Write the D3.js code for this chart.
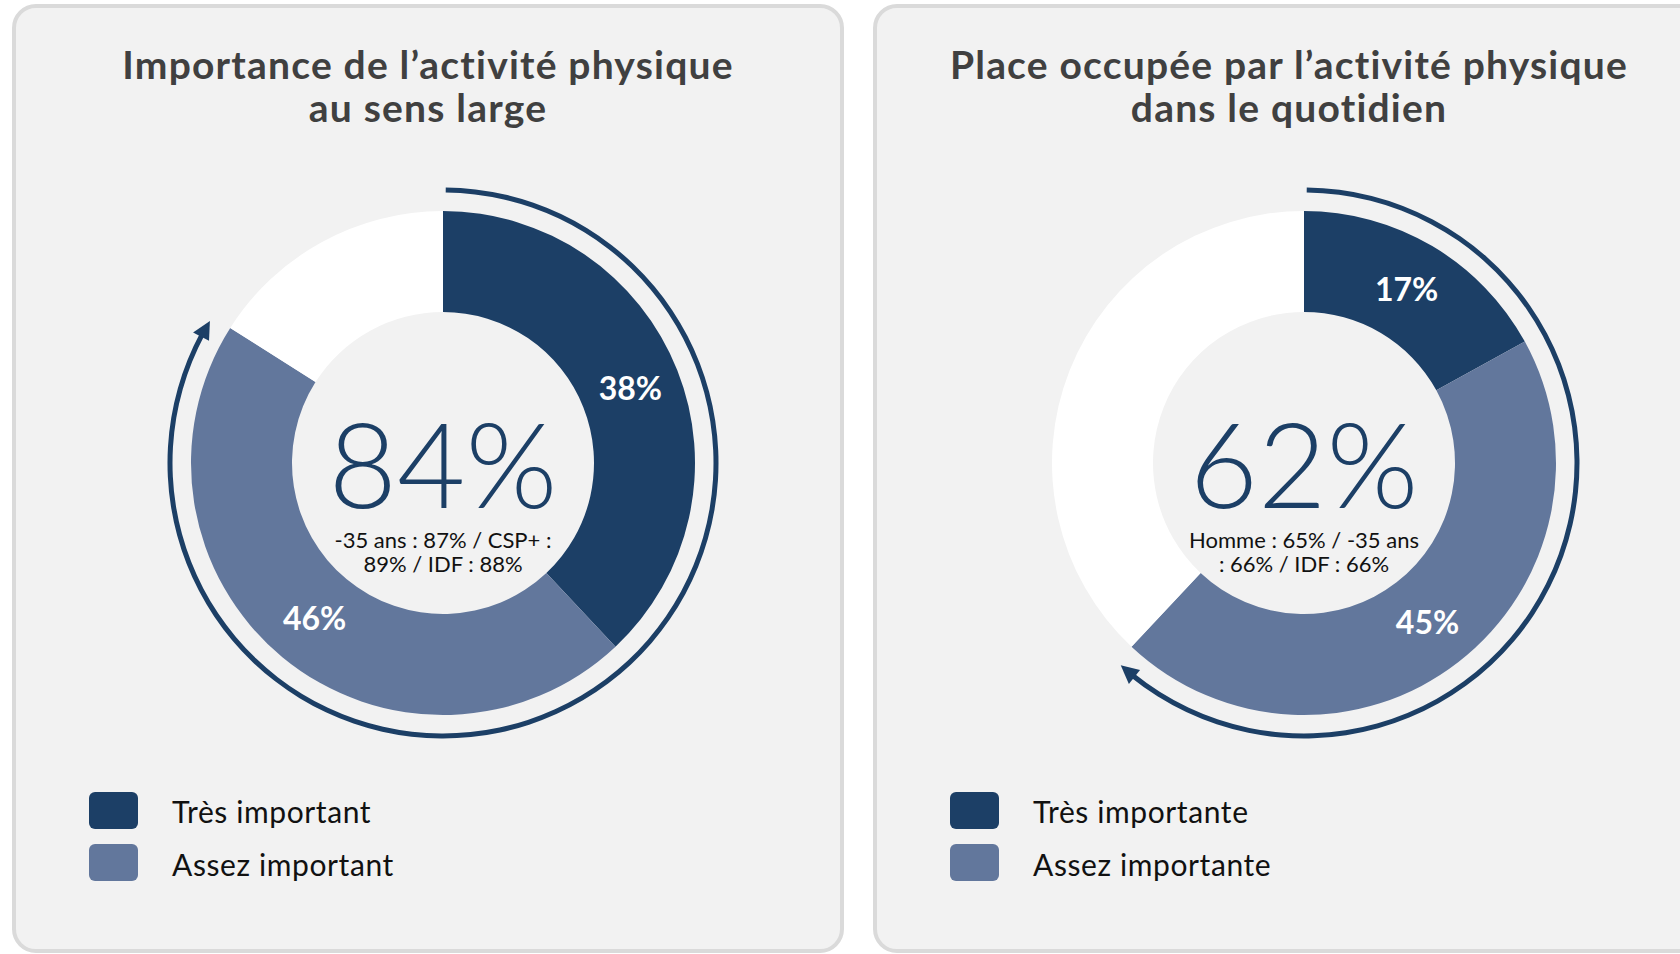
<!DOCTYPE html>
<html lang="fr">
<head>
<meta charset="utf-8">
<title>Activité physique</title>
<script src="https://cdn.jsdelivr.net/npm/d3@7"></script>
<style>
  body { margin: 0; background: #fff; }
  svg { display: block; font-family: Lato, "Open Sans", sans-serif; }
</style>
</head>
<body>
<script>
// data
let titles = [["Importance de l’activité physique", "au sens large"],
              ["Place occupée par l’activité physique", "dans le quotidien"]];
let tres = [38, 17];           // "très important(e)"
let assez = [46, 45];          // "assez important(e)"
let totals = ["84%", "62%"];
let notes = [["-35 ans : 87% / CSP+ :", "89% / IDF : 88%"],
             ["Homme : 65% / -35 ans", ": 66% / IDF : 66%"]];
let legendLabels = [["Très important", "Assez important"],
                    ["Très importante", "Assez importante"]];

let colors = ["#1c3f66", "#62779c", "#ffffff"];

let w = 1680, h = 954;
let panelW = 832, panelGap = 29;
let rIn = 151, rOut = 252, ringR = 273, ringW = 5;

let svg = d3.select("body").append("svg")
  .attr("width", w)
  .attr("height", h);

svg.append("rect").attr("width", w).attr("height", h).attr("fill", "#fff");

let angle = d3.scaleLinear().domain([0, 100]).range([0, 2 * Math.PI]);
let arc = d3.arc().innerRadius(rIn).outerRadius(rOut);
let ringArc = d3.arc().innerRadius(ringR - ringW / 2).outerRadius(ringR + ringW / 2);
let pie = d3.pie().sort(null).value(d => d);

// point on a circle, angle measured clockwise from the top
function pt(a, r) { return [r * Math.sin(a), -r * Math.cos(a)]; }

titles.forEach((t, i) => {
  let x0 = 12 + i * (panelW + panelGap);
  let g = svg.append("g");

  // panel
  g.append("rect")
    .attr("x", x0 + 2).attr("y", 6)
    .attr("width", panelW - 4).attr("height", 945)
    .attr("rx", 22)
    .attr("fill", "#f2f2f2")
    .attr("stroke", "#dadada")
    .attr("stroke-width", 4);

  // title
  g.selectAll(".title")
    .data(t)
    .enter()
    .append("text")
    .attr("x", x0 + 416)
    .attr("y", (d, k) => 79 + k * 43)
    .attr("text-anchor", "middle")
    .attr("font-size", 39)
    .attr("font-weight", 700)
    .attr("letter-spacing", 1.2)
    .attr("fill", "#404040")
    .text(d => d);

  let cx = x0 + 431, cy = 463;
  let donut = g.append("g").attr("transform", `translate(${cx},${cy})`);
  let vals = [tres[i], assez[i], 100 - tres[i] - assez[i]];
  let arcs = pie(vals);

  donut.selectAll("path.seg")
    .data(arcs)
    .enter()
    .append("path")
    .attr("class", "seg")
    .attr("d", arc)
    .attr("fill", (d, k) => colors[k]);

  // percentage labels on the coloured segments
  donut.selectAll("text.lab")
    .data(arcs.slice(0, 2))
    .enter()
    .append("text")
    .attr("class", "lab")
    .attr("transform", d => `translate(${arc.centroid(d)})`)
    .attr("dy", "0.36em")
    .attr("text-anchor", "middle")
    .attr("font-size", 32)
    .attr("font-weight", 700)
    .attr("fill", "#fff")
    .text(d => d.data + "%");

  // outer arrow ring up to the total
  let total = tres[i] + assez[i];
  let tipA = angle(total) - 0.018;
  let headLen = 18 / ringR;
  donut.append("path")
    .attr("d", ringArc({startAngle: 0.01, endAngle: tipA - headLen + 0.01}))
    .attr("fill", colors[0]);
  let baseA = tipA - headLen;
  let head = [pt(tipA, ringR), pt(baseA, ringR + 9), pt(baseA, ringR - 9)];
  donut.append("path")
    .attr("d", d3.line()(head) + "Z")
    .attr("fill", colors[0]);

  // centre texts
  donut.append("text")
    .attr("y", 45)
    .attr("text-anchor", "middle")
    .attr("font-size", 118)
    .attr("font-weight", 300)
    .attr("fill", colors[0])
    .text(totals[i]);

  donut.selectAll("text.note")
    .data(notes[i])
    .enter()
    .append("text")
    .attr("class", "note")
    .attr("y", (d, k) => 85 + k * 24)
    .attr("text-anchor", "middle")
    .attr("font-size", 22)
    .attr("fill", "#111")
    .text(d => d);

  // legend
  let leg = g.selectAll(".leg")
    .data(legendLabels[i])
    .enter()
    .append("g");
  leg.append("rect")
    .attr("x", x0 + 77)
    .attr("y", (d, k) => 792 + k * 52)
    .attr("width", 49).attr("height", 37)
    .attr("rx", 6)
    .attr("fill", (d, k) => colors[k]);
  leg.append("text")
    .attr("x", x0 + 160)
    .attr("y", (d, k) => 823 + k * 53)
    .attr("font-size", 30)
    .attr("letter-spacing", 0.6)
    .attr("fill", "#111")
    .text(d => d);
});
</script>
</body>
</html>
